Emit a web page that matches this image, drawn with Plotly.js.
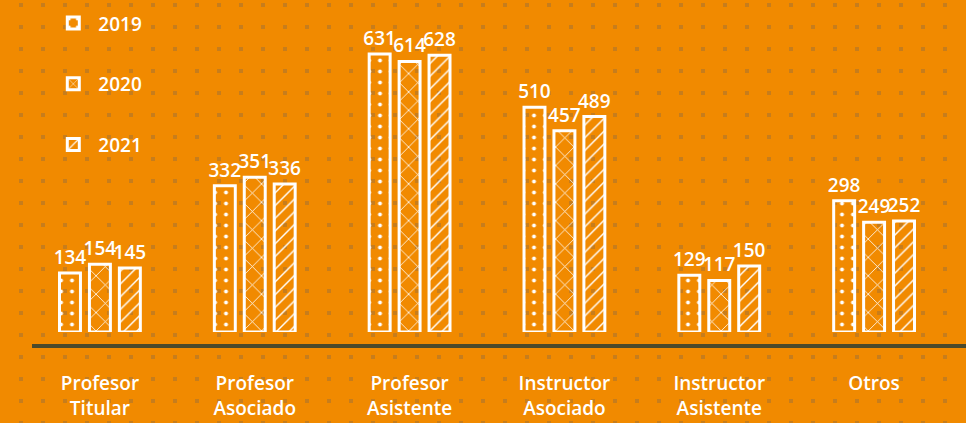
<!DOCTYPE html>
<html>
<head>
<meta charset="utf-8">
<script src="https://cdn.plot.ly/plotly-3.0.1.min.js"></script>
<style>
  html, body { margin: 0; padding: 0; background: #F18A00; }
  #chart { width: 966px; height: 423px; }
</style>
</head>
<body>
<div id="chart"></div>
<script>
// ---- Data ----
const categories = [
  "Profesor<br>Titular",
  "Profesor<br>Asociado",
  "Profesor<br>Asistente",
  "Instructor<br>Asociado",
  "Instructor<br>Asistente",
  "Otros"
];
const seriesNames = ["2019", "2020", "2021"];
const values2019 = [134, 332, 631, 510, 129, 298];
const values2020 = [154, 351, 614, 457, 117, 249];
const values2021 = [145, 336, 628, 489, 150, 252];

// ---- Styles ----
const BG = "#F18A00";
const FONT = "'Open Sans', 'Noto Sans', 'DejaVu Sans', sans-serif";
const patterns = [
  { shape: ".", size: 11, solidity: 0.1 },
  { shape: "x", size: 13, solidity: 0.12 },
  { shape: "/", size: 9, solidity: 0.16 }
];
const allValues = [values2019, values2020, values2021];

const traces = [
  // empty trace so the background dot-grid subplot exists
  { x: [], y: [], type: "scatter", xaxis: "x", yaxis: "y", showlegend: false, hoverinfo: "skip" }
];

allValues.forEach((vals, i) => {
  traces.push({
    type: "bar",
    name: seriesNames[i],
    x: categories,
    y: vals,
    xaxis: "x2",
    yaxis: "y2",
    legendgroup: seriesNames[i],
    text: vals.map(String),
    textposition: "outside",
    constraintext: "none",
    cliponaxis: false,
    textfont: { family: FONT, size: 19, color: "#FFFFFF", weight: 600 },
    marker: {
      color: "rgba(0,0,0,0)",
      line: { color: "#FFFFFF", width: 3 },
      pattern: {
        shape: patterns[i].shape,
        size: patterns[i].size,
        solidity: patterns[i].solidity,
        fgcolor: "#FFFFFF",
        bgcolor: "rgba(0,0,0,0)",
        fillmode: "replace"
      }
    },
    hoverinfo: "skip"
  });
});

const layout = {
  width: 966,
  height: 423,
  margin: { l: 0, r: 0, t: 0, b: 0, pad: 0 },
  paper_bgcolor: BG,
  plot_bgcolor: "rgba(0,0,0,0)",
  font: { family: FONT, color: "#FFFFFF" },
  barmode: "group",
  bargap: 0.42,
  bargroupgap: 0.3,
  showlegend: true,
  legend: {
    x: 0.05, y: 0.99, xanchor: "left", yanchor: "top",
    bgcolor: "rgba(0,0,0,0)",
    font: { family: FONT, size: 19, color: "#FFFFFF", weight: 600 },
    tracegroupgap: 33,
    itemwidth: 40
  },
  // background dot grid
  xaxis: {
    domain: [0, 1], range: [0, 966], fixedrange: true,
    showgrid: true, tick0: 21, dtick: 22,
    gridcolor: "rgba(120,100,80,0.35)", gridwidth: 4,
    griddash: "0px,3px,4px,15px",
    zeroline: false, showticklabels: false, ticks: "", showline: false
  },
  yaxis: {
    domain: [0, 1], range: [0, 423], fixedrange: true,
    showgrid: false, zeroline: false, showticklabels: false, ticks: "", showline: false
  },
  // bars
  xaxis2: {
    domain: [0.0233, 0.985], anchor: "y2", type: "category",
    range: [-0.5, 5.5], fixedrange: true,
    showgrid: false, zeroline: false, showline: false, ticks: "",
    ticklabelstandoff: 38,
    tickfont: { family: FONT, size: 19, color: "#FFFFFF", weight: 600 }
  },
  yaxis2: {
    domain: [0.2151, 1], anchor: "x2", range: [0, 753.5], fixedrange: true,
    showgrid: false, zeroline: false, showticklabels: false, ticks: "", showline: false
  },
  shapes: [
    {
      type: "line", xref: "paper", yref: "paper",
      x0: 32 / 966, x1: 1, y0: (423 - 346) / 423, y1: (423 - 346) / 423,
      line: { color: "#4B4A2B", width: 4 }
    }
  ]
};

Plotly.newPlot("chart", traces, layout, { staticPlot: true, displayModeBar: false });
</script>
</body>
</html>
